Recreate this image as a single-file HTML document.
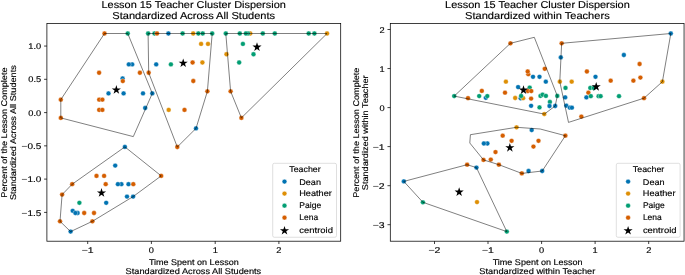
<!DOCTYPE html>
<html><head><meta charset="utf-8"><title>Lesson 15 Teacher Cluster Dispersion</title>
<style>html,body{margin:0;padding:0;background:#fff;overflow:hidden;width:685px;height:275px;}svg{display:block;will-change:transform;} text{text-rendering:geometricPrecision;stroke:#000;stroke-width:0.15px;}</style></head>
<body>
<svg width="685" height="275" viewBox="0 0 685 275" font-family="'Liberation Sans', sans-serif" fill="#000">
<rect x="0" y="0" width="685" height="275" fill="#fff"/>
<circle cx="104.50" cy="33.50" r="2.42" fill="#d55e00" stroke="#fff" stroke-width="0.39"/>
<circle cx="127.75" cy="33.50" r="2.42" fill="#029e73" stroke="#fff" stroke-width="0.39"/>
<circle cx="148.10" cy="33.50" r="2.42" fill="#029e73" stroke="#fff" stroke-width="0.39"/>
<circle cx="154.50" cy="33.50" r="2.42" fill="#029e73" stroke="#fff" stroke-width="0.39"/>
<circle cx="157.00" cy="33.50" r="2.42" fill="#d55e00" stroke="#fff" stroke-width="0.39"/>
<circle cx="168.40" cy="33.50" r="2.42" fill="#0173b2" stroke="#fff" stroke-width="0.39"/>
<circle cx="182.60" cy="33.50" r="2.42" fill="#029e73" stroke="#fff" stroke-width="0.39"/>
<circle cx="193.20" cy="33.50" r="2.42" fill="#de8f05" stroke="#fff" stroke-width="0.39"/>
<circle cx="198.35" cy="33.50" r="2.42" fill="#029e73" stroke="#fff" stroke-width="0.39"/>
<circle cx="202.70" cy="33.50" r="2.42" fill="#029e73" stroke="#fff" stroke-width="0.39"/>
<circle cx="212.20" cy="33.50" r="2.42" fill="#029e73" stroke="#fff" stroke-width="0.39"/>
<circle cx="225.80" cy="33.50" r="2.42" fill="#029e73" stroke="#fff" stroke-width="0.39"/>
<circle cx="239.80" cy="33.50" r="2.42" fill="#029e73" stroke="#fff" stroke-width="0.39"/>
<circle cx="250.20" cy="33.50" r="2.42" fill="#de8f05" stroke="#fff" stroke-width="0.39"/>
<circle cx="247.90" cy="33.50" r="2.42" fill="#029e73" stroke="#fff" stroke-width="0.39"/>
<circle cx="245.90" cy="33.50" r="2.42" fill="#029e73" stroke="#fff" stroke-width="0.39"/>
<circle cx="262.80" cy="33.50" r="2.42" fill="#029e73" stroke="#fff" stroke-width="0.39"/>
<circle cx="274.80" cy="33.50" r="2.42" fill="#029e73" stroke="#fff" stroke-width="0.39"/>
<circle cx="308.70" cy="33.50" r="2.42" fill="#029e73" stroke="#fff" stroke-width="0.39"/>
<circle cx="314.40" cy="33.50" r="2.42" fill="#029e73" stroke="#fff" stroke-width="0.39"/>
<circle cx="327.05" cy="33.50" r="2.42" fill="#de8f05" stroke="#fff" stroke-width="0.39"/>
<circle cx="201.10" cy="43.95" r="2.42" fill="#de8f05" stroke="#fff" stroke-width="0.39"/>
<circle cx="208.00" cy="43.95" r="2.42" fill="#de8f05" stroke="#fff" stroke-width="0.39"/>
<circle cx="242.90" cy="43.95" r="2.42" fill="#029e73" stroke="#fff" stroke-width="0.39"/>
<circle cx="226.50" cy="54.25" r="2.42" fill="#de8f05" stroke="#fff" stroke-width="0.39"/>
<circle cx="253.50" cy="54.25" r="2.42" fill="#029e73" stroke="#fff" stroke-width="0.39"/>
<circle cx="192.60" cy="62.50" r="2.42" fill="#d55e00" stroke="#fff" stroke-width="0.39"/>
<circle cx="202.40" cy="62.50" r="2.42" fill="#de8f05" stroke="#fff" stroke-width="0.39"/>
<circle cx="239.15" cy="62.50" r="2.42" fill="#029e73" stroke="#fff" stroke-width="0.39"/>
<circle cx="132.20" cy="64.40" r="2.42" fill="#0173b2" stroke="#fff" stroke-width="0.39"/>
<circle cx="128.80" cy="64.40" r="2.42" fill="#0173b2" stroke="#fff" stroke-width="0.39"/>
<circle cx="156.20" cy="64.40" r="2.42" fill="#0173b2" stroke="#fff" stroke-width="0.39"/>
<circle cx="170.90" cy="64.40" r="2.42" fill="#029e73" stroke="#fff" stroke-width="0.39"/>
<circle cx="99.10" cy="72.75" r="2.42" fill="#d55e00" stroke="#fff" stroke-width="0.39"/>
<circle cx="139.90" cy="72.75" r="2.42" fill="#d55e00" stroke="#fff" stroke-width="0.39"/>
<circle cx="148.70" cy="72.75" r="2.42" fill="#d55e00" stroke="#fff" stroke-width="0.39"/>
<circle cx="122.60" cy="78.50" r="2.42" fill="#0173b2" stroke="#fff" stroke-width="0.39"/>
<circle cx="122.80" cy="81.10" r="2.42" fill="#d55e00" stroke="#fff" stroke-width="0.39"/>
<circle cx="193.30" cy="81.00" r="2.42" fill="#d55e00" stroke="#fff" stroke-width="0.39"/>
<circle cx="207.40" cy="91.30" r="2.42" fill="#d55e00" stroke="#fff" stroke-width="0.39"/>
<circle cx="230.60" cy="91.30" r="2.42" fill="#d55e00" stroke="#fff" stroke-width="0.39"/>
<circle cx="108.50" cy="93.40" r="2.42" fill="#0173b2" stroke="#fff" stroke-width="0.39"/>
<circle cx="123.60" cy="93.40" r="2.42" fill="#0173b2" stroke="#fff" stroke-width="0.39"/>
<circle cx="143.00" cy="93.40" r="2.42" fill="#0173b2" stroke="#fff" stroke-width="0.39"/>
<circle cx="152.30" cy="93.40" r="2.42" fill="#0173b2" stroke="#fff" stroke-width="0.39"/>
<circle cx="60.80" cy="99.65" r="2.42" fill="#d55e00" stroke="#fff" stroke-width="0.39"/>
<circle cx="99.20" cy="99.65" r="2.42" fill="#d55e00" stroke="#fff" stroke-width="0.39"/>
<circle cx="102.40" cy="99.65" r="2.42" fill="#d55e00" stroke="#fff" stroke-width="0.39"/>
<circle cx="145.20" cy="108.00" r="2.42" fill="#0173b2" stroke="#fff" stroke-width="0.39"/>
<circle cx="99.20" cy="109.90" r="2.42" fill="#d55e00" stroke="#fff" stroke-width="0.39"/>
<circle cx="102.40" cy="109.90" r="2.42" fill="#d55e00" stroke="#fff" stroke-width="0.39"/>
<circle cx="168.70" cy="109.90" r="2.42" fill="#de8f05" stroke="#fff" stroke-width="0.39"/>
<circle cx="184.50" cy="109.90" r="2.42" fill="#d55e00" stroke="#fff" stroke-width="0.39"/>
<circle cx="60.80" cy="117.90" r="2.42" fill="#d55e00" stroke="#fff" stroke-width="0.39"/>
<circle cx="241.40" cy="117.90" r="2.42" fill="#d55e00" stroke="#fff" stroke-width="0.39"/>
<circle cx="196.00" cy="128.40" r="2.42" fill="#0173b2" stroke="#fff" stroke-width="0.39"/>
<circle cx="177.30" cy="147.00" r="2.42" fill="#d55e00" stroke="#fff" stroke-width="0.39"/>
<circle cx="124.90" cy="146.90" r="2.42" fill="#0173b2" stroke="#fff" stroke-width="0.39"/>
<circle cx="115.20" cy="165.60" r="2.42" fill="#0173b2" stroke="#fff" stroke-width="0.39"/>
<circle cx="96.50" cy="175.90" r="2.42" fill="#d55e00" stroke="#fff" stroke-width="0.39"/>
<circle cx="104.10" cy="175.90" r="2.42" fill="#d55e00" stroke="#fff" stroke-width="0.39"/>
<circle cx="161.20" cy="175.90" r="2.42" fill="#d55e00" stroke="#fff" stroke-width="0.39"/>
<circle cx="72.20" cy="184.20" r="2.42" fill="#d55e00" stroke="#fff" stroke-width="0.39"/>
<circle cx="105.70" cy="184.20" r="2.42" fill="#d55e00" stroke="#fff" stroke-width="0.39"/>
<circle cx="121.40" cy="184.20" r="2.42" fill="#0173b2" stroke="#fff" stroke-width="0.39"/>
<circle cx="117.90" cy="184.20" r="2.42" fill="#0173b2" stroke="#fff" stroke-width="0.39"/>
<circle cx="128.50" cy="184.20" r="2.42" fill="#0173b2" stroke="#fff" stroke-width="0.39"/>
<circle cx="133.30" cy="184.20" r="2.42" fill="#d55e00" stroke="#fff" stroke-width="0.39"/>
<circle cx="62.10" cy="194.60" r="2.42" fill="#d55e00" stroke="#fff" stroke-width="0.39"/>
<circle cx="127.00" cy="196.60" r="2.42" fill="#0173b2" stroke="#fff" stroke-width="0.39"/>
<circle cx="133.10" cy="196.60" r="2.42" fill="#0173b2" stroke="#fff" stroke-width="0.39"/>
<circle cx="79.40" cy="202.80" r="2.42" fill="#029e73" stroke="#fff" stroke-width="0.39"/>
<circle cx="106.20" cy="202.80" r="2.42" fill="#0173b2" stroke="#fff" stroke-width="0.39"/>
<circle cx="72.70" cy="210.80" r="2.42" fill="#0173b2" stroke="#fff" stroke-width="0.39"/>
<circle cx="77.60" cy="213.00" r="2.42" fill="#0173b2" stroke="#fff" stroke-width="0.39"/>
<circle cx="75.40" cy="213.00" r="2.42" fill="#0173b2" stroke="#fff" stroke-width="0.39"/>
<circle cx="84.20" cy="213.00" r="2.42" fill="#d55e00" stroke="#fff" stroke-width="0.39"/>
<circle cx="94.00" cy="213.00" r="2.42" fill="#d55e00" stroke="#fff" stroke-width="0.39"/>
<circle cx="60.00" cy="221.30" r="2.42" fill="#d55e00" stroke="#fff" stroke-width="0.39"/>
<circle cx="92.40" cy="221.30" r="2.42" fill="#d55e00" stroke="#fff" stroke-width="0.39"/>
<circle cx="70.60" cy="231.60" r="2.42" fill="#0173b2" stroke="#fff" stroke-width="0.39"/>
<polygon points="116.35,85.10 117.43,88.42 120.92,88.42 118.09,90.47 119.17,93.78 116.35,91.73 113.53,93.78 114.61,90.47 111.78,88.42 115.27,88.42" fill="#000"/>
<polygon points="183.20,58.40 184.28,61.72 187.77,61.72 184.94,63.77 186.02,67.08 183.20,65.03 180.38,67.08 181.46,63.77 178.63,61.72 182.12,61.72" fill="#000"/>
<polygon points="257.00,42.30 258.08,45.62 261.57,45.62 258.74,47.67 259.82,50.98 257.00,48.93 254.18,50.98 255.26,47.67 252.43,45.62 255.92,45.62" fill="#000"/>
<polygon points="101.50,188.10 102.58,191.42 106.07,191.42 103.24,193.47 104.32,196.78 101.50,194.73 98.68,196.78 99.76,193.47 96.93,191.42 100.42,191.42" fill="#000"/>
<polygon points="104.50,33.50 127.75,33.50 152.30,93.40 133.30,136.60 60.80,117.90 60.80,99.65" fill="none" stroke="#000" stroke-width="0.5" stroke-linejoin="miter"/>
<polygon points="148.10,33.50 212.20,33.50 207.40,91.30 196.00,128.40 177.30,147.00 148.70,72.75" fill="none" stroke="#000" stroke-width="0.5" stroke-linejoin="miter"/>
<polygon points="225.80,33.50 327.05,33.50 241.40,117.90 230.60,91.30" fill="none" stroke="#000" stroke-width="0.5" stroke-linejoin="miter"/>
<polygon points="124.90,146.90 161.20,175.90 133.10,196.60 92.40,221.30 70.60,231.60 60.00,221.30 62.10,194.60 72.20,184.20" fill="none" stroke="#000" stroke-width="0.5" stroke-linejoin="miter"/>
<rect x="46.90" y="23.45" width="293.80" height="217.75" fill="none" stroke="#000" stroke-width="0.75"/>
<line x1="87.70" y1="241.20" x2="87.70" y2="244.03" stroke="#000" stroke-width="0.75"/>
<text x="87.70" y="253.40" font-size="8.3" text-anchor="middle" textLength="11.94" lengthAdjust="spacingAndGlyphs">−1</text>
<line x1="151.40" y1="241.20" x2="151.40" y2="244.03" stroke="#000" stroke-width="0.75"/>
<text x="151.40" y="253.40" font-size="8.3" text-anchor="middle" textLength="5.15" lengthAdjust="spacingAndGlyphs">0</text>
<line x1="215.20" y1="241.20" x2="215.20" y2="244.03" stroke="#000" stroke-width="0.75"/>
<text x="215.20" y="253.40" font-size="8.3" text-anchor="middle" textLength="5.15" lengthAdjust="spacingAndGlyphs">1</text>
<line x1="278.90" y1="241.20" x2="278.90" y2="244.03" stroke="#000" stroke-width="0.75"/>
<text x="278.90" y="253.40" font-size="8.3" text-anchor="middle" textLength="5.15" lengthAdjust="spacingAndGlyphs">2</text>
<line x1="46.90" y1="46.05" x2="44.07" y2="46.05" stroke="#000" stroke-width="0.75"/>
<text x="41.24" y="49.20" font-size="8.3" text-anchor="end" textLength="12.88" lengthAdjust="spacingAndGlyphs">1.0</text>
<line x1="46.90" y1="79.30" x2="44.07" y2="79.30" stroke="#000" stroke-width="0.75"/>
<text x="41.24" y="82.45" font-size="8.3" text-anchor="end" textLength="12.88" lengthAdjust="spacingAndGlyphs">0.5</text>
<line x1="46.90" y1="112.60" x2="44.07" y2="112.60" stroke="#000" stroke-width="0.75"/>
<text x="41.24" y="115.75" font-size="8.3" text-anchor="end" textLength="12.88" lengthAdjust="spacingAndGlyphs">0.0</text>
<line x1="46.90" y1="145.85" x2="44.07" y2="145.85" stroke="#000" stroke-width="0.75"/>
<text x="41.24" y="149.00" font-size="8.3" text-anchor="end" textLength="19.67" lengthAdjust="spacingAndGlyphs">−0.5</text>
<line x1="46.90" y1="179.10" x2="44.07" y2="179.10" stroke="#000" stroke-width="0.75"/>
<text x="41.24" y="182.25" font-size="8.3" text-anchor="end" textLength="19.67" lengthAdjust="spacingAndGlyphs">−1.0</text>
<line x1="46.90" y1="212.40" x2="44.07" y2="212.40" stroke="#000" stroke-width="0.75"/>
<text x="41.24" y="215.55" font-size="8.3" text-anchor="end" textLength="19.67" lengthAdjust="spacingAndGlyphs">−1.5</text>
<text x="101.51" y="7.80" font-size="10.0" textLength="184.29" lengthAdjust="spacingAndGlyphs">Lesson 15 Teacher Cluster Dispersion</text>
<text x="112.30" y="18.80" font-size="10.0" textLength="162.79" lengthAdjust="spacingAndGlyphs">Standardized Across All Students</text>
<text x="148.90" y="264.60" font-size="8.3" textLength="89.78" lengthAdjust="spacingAndGlyphs">Time Spent on Lesson</text>
<text x="125.58" y="273.60" font-size="8.3" textLength="135.65" lengthAdjust="spacingAndGlyphs">Standardized Across All Students</text>
<text x="7.10" y="197.65" font-size="8.3" textLength="130.15" lengthAdjust="spacingAndGlyphs" transform="rotate(-90 7.10 197.65)">Percent of the Lesson Complete</text>
<text x="16.10" y="200.11" font-size="8.3" textLength="134.94" lengthAdjust="spacingAndGlyphs" transform="rotate(-90 16.10 200.11)">Standardized Across All Students</text>
<rect x="272.70" y="163.30" width="63.80" height="73.95" rx="1.6" ry="1.6" fill="#fff" fill-opacity="0.8" stroke="#ccc" stroke-opacity="0.8" stroke-width="0.8"/>
<text x="289.21" y="172.20" font-size="8.3" textLength="31.54" lengthAdjust="spacingAndGlyphs">Teacher</text>
<circle cx="284.50" cy="181.60" r="2.42" fill="#0173b2" stroke="#fff" stroke-width="0.39"/>
<text x="299.25" y="184.60" font-size="8.3" textLength="21.74" lengthAdjust="spacingAndGlyphs">Dean</text>
<circle cx="284.50" cy="193.60" r="2.42" fill="#de8f05" stroke="#fff" stroke-width="0.39"/>
<text x="299.25" y="196.40" font-size="8.3" textLength="32.60" lengthAdjust="spacingAndGlyphs">Heather</text>
<circle cx="284.50" cy="205.70" r="2.42" fill="#029e73" stroke="#fff" stroke-width="0.39"/>
<text x="299.30" y="208.30" font-size="8.3" textLength="21.88" lengthAdjust="spacingAndGlyphs">Paige</text>
<circle cx="284.50" cy="217.70" r="2.42" fill="#d55e00" stroke="#fff" stroke-width="0.39"/>
<text x="299.30" y="220.30" font-size="8.3" textLength="18.90" lengthAdjust="spacingAndGlyphs">Lena</text>
<polygon points="284.50,225.90 285.58,229.22 289.07,229.22 286.24,231.27 287.32,234.58 284.50,232.53 281.68,234.58 282.76,231.27 279.93,229.22 283.42,229.22" fill="#000"/>
<text x="299.30" y="232.50" font-size="8.3" textLength="33.61" lengthAdjust="spacingAndGlyphs">centroid</text>
<circle cx="670.80" cy="33.50" r="2.42" fill="#0173b2" stroke="#fff" stroke-width="0.39"/>
<circle cx="510.45" cy="43.30" r="2.42" fill="#d55e00" stroke="#fff" stroke-width="0.39"/>
<circle cx="561.65" cy="43.30" r="2.42" fill="#d55e00" stroke="#fff" stroke-width="0.39"/>
<circle cx="560.80" cy="57.40" r="2.42" fill="#0173b2" stroke="#fff" stroke-width="0.39"/>
<circle cx="623.85" cy="55.00" r="2.42" fill="#0173b2" stroke="#fff" stroke-width="0.39"/>
<circle cx="639.60" cy="64.00" r="2.42" fill="#d55e00" stroke="#fff" stroke-width="0.39"/>
<circle cx="544.75" cy="68.80" r="2.42" fill="#d55e00" stroke="#fff" stroke-width="0.39"/>
<circle cx="528.30" cy="74.20" r="2.42" fill="#d55e00" stroke="#fff" stroke-width="0.39"/>
<circle cx="527.70" cy="71.50" r="2.42" fill="#d55e00" stroke="#fff" stroke-width="0.39"/>
<circle cx="586.90" cy="71.50" r="2.42" fill="#d55e00" stroke="#fff" stroke-width="0.39"/>
<circle cx="533.00" cy="76.80" r="2.42" fill="#0173b2" stroke="#fff" stroke-width="0.39"/>
<circle cx="539.50" cy="76.80" r="2.42" fill="#0173b2" stroke="#fff" stroke-width="0.39"/>
<circle cx="595.50" cy="76.80" r="2.42" fill="#0173b2" stroke="#fff" stroke-width="0.39"/>
<circle cx="640.40" cy="77.60" r="2.42" fill="#d55e00" stroke="#fff" stroke-width="0.39"/>
<circle cx="505.90" cy="81.70" r="2.42" fill="#de8f05" stroke="#fff" stroke-width="0.39"/>
<circle cx="545.80" cy="81.70" r="2.42" fill="#0173b2" stroke="#fff" stroke-width="0.39"/>
<circle cx="559.80" cy="81.70" r="2.42" fill="#de8f05" stroke="#fff" stroke-width="0.39"/>
<circle cx="571.70" cy="81.70" r="2.42" fill="#de8f05" stroke="#fff" stroke-width="0.39"/>
<circle cx="662.40" cy="81.70" r="2.42" fill="#de8f05" stroke="#fff" stroke-width="0.39"/>
<circle cx="610.70" cy="80.70" r="2.42" fill="#d55e00" stroke="#fff" stroke-width="0.39"/>
<circle cx="633.40" cy="80.70" r="2.42" fill="#d55e00" stroke="#fff" stroke-width="0.39"/>
<circle cx="518.10" cy="87.10" r="2.42" fill="#0173b2" stroke="#fff" stroke-width="0.39"/>
<circle cx="529.70" cy="87.60" r="2.42" fill="#029e73" stroke="#fff" stroke-width="0.39"/>
<circle cx="565.50" cy="87.90" r="2.42" fill="#029e73" stroke="#fff" stroke-width="0.39"/>
<circle cx="590.30" cy="87.90" r="2.42" fill="#029e73" stroke="#fff" stroke-width="0.39"/>
<circle cx="593.80" cy="88.00" r="2.42" fill="#029e73" stroke="#fff" stroke-width="0.39"/>
<circle cx="481.80" cy="90.90" r="2.42" fill="#d55e00" stroke="#fff" stroke-width="0.39"/>
<circle cx="527.90" cy="91.10" r="2.42" fill="#d55e00" stroke="#fff" stroke-width="0.39"/>
<circle cx="531.30" cy="91.10" r="2.42" fill="#d55e00" stroke="#fff" stroke-width="0.39"/>
<circle cx="505.00" cy="92.70" r="2.42" fill="#d55e00" stroke="#fff" stroke-width="0.39"/>
<circle cx="588.40" cy="92.70" r="2.42" fill="#d55e00" stroke="#fff" stroke-width="0.39"/>
<circle cx="454.20" cy="96.10" r="2.42" fill="#029e73" stroke="#fff" stroke-width="0.39"/>
<circle cx="479.20" cy="96.10" r="2.42" fill="#029e73" stroke="#fff" stroke-width="0.39"/>
<circle cx="485.80" cy="97.80" r="2.42" fill="#0173b2" stroke="#fff" stroke-width="0.39"/>
<circle cx="487.30" cy="96.10" r="2.42" fill="#029e73" stroke="#fff" stroke-width="0.39"/>
<circle cx="468.00" cy="98.20" r="2.42" fill="#d55e00" stroke="#fff" stroke-width="0.39"/>
<circle cx="515.20" cy="98.00" r="2.42" fill="#de8f05" stroke="#fff" stroke-width="0.39"/>
<circle cx="520.70" cy="98.30" r="2.42" fill="#0173b2" stroke="#fff" stroke-width="0.39"/>
<circle cx="523.10" cy="98.20" r="2.42" fill="#de8f05" stroke="#fff" stroke-width="0.39"/>
<circle cx="521.10" cy="96.00" r="2.42" fill="#029e73" stroke="#fff" stroke-width="0.39"/>
<circle cx="531.10" cy="98.60" r="2.42" fill="#d55e00" stroke="#fff" stroke-width="0.39"/>
<circle cx="540.50" cy="95.90" r="2.42" fill="#029e73" stroke="#fff" stroke-width="0.39"/>
<circle cx="542.60" cy="94.70" r="2.42" fill="#029e73" stroke="#fff" stroke-width="0.39"/>
<circle cx="545.90" cy="95.90" r="2.42" fill="#029e73" stroke="#fff" stroke-width="0.39"/>
<circle cx="557.30" cy="95.90" r="2.42" fill="#029e73" stroke="#fff" stroke-width="0.39"/>
<circle cx="565.20" cy="97.40" r="2.42" fill="#0173b2" stroke="#fff" stroke-width="0.39"/>
<circle cx="586.40" cy="97.40" r="2.42" fill="#0173b2" stroke="#fff" stroke-width="0.39"/>
<circle cx="590.80" cy="96.20" r="2.42" fill="#029e73" stroke="#fff" stroke-width="0.39"/>
<circle cx="598.60" cy="96.20" r="2.42" fill="#029e73" stroke="#fff" stroke-width="0.39"/>
<circle cx="600.60" cy="96.20" r="2.42" fill="#029e73" stroke="#fff" stroke-width="0.39"/>
<circle cx="619.00" cy="96.20" r="2.42" fill="#029e73" stroke="#fff" stroke-width="0.39"/>
<circle cx="644.00" cy="98.20" r="2.42" fill="#d55e00" stroke="#fff" stroke-width="0.39"/>
<circle cx="549.90" cy="102.00" r="2.42" fill="#029e73" stroke="#fff" stroke-width="0.39"/>
<circle cx="531.10" cy="105.80" r="2.42" fill="#0173b2" stroke="#fff" stroke-width="0.39"/>
<circle cx="549.50" cy="106.00" r="2.42" fill="#0173b2" stroke="#fff" stroke-width="0.39"/>
<circle cx="555.20" cy="106.00" r="2.42" fill="#0173b2" stroke="#fff" stroke-width="0.39"/>
<circle cx="539.50" cy="107.40" r="2.42" fill="#029e73" stroke="#fff" stroke-width="0.39"/>
<circle cx="566.30" cy="105.70" r="2.42" fill="#0173b2" stroke="#fff" stroke-width="0.39"/>
<circle cx="569.80" cy="107.70" r="2.42" fill="#0173b2" stroke="#fff" stroke-width="0.39"/>
<circle cx="571.90" cy="107.70" r="2.42" fill="#0173b2" stroke="#fff" stroke-width="0.39"/>
<circle cx="544.30" cy="114.10" r="2.42" fill="#de8f05" stroke="#fff" stroke-width="0.39"/>
<circle cx="581.35" cy="116.60" r="2.42" fill="#d55e00" stroke="#fff" stroke-width="0.39"/>
<circle cx="516.55" cy="127.30" r="2.42" fill="#de8f05" stroke="#fff" stroke-width="0.39"/>
<circle cx="531.70" cy="130.05" r="2.42" fill="#0173b2" stroke="#fff" stroke-width="0.39"/>
<circle cx="502.70" cy="135.70" r="2.42" fill="#d55e00" stroke="#fff" stroke-width="0.39"/>
<circle cx="565.40" cy="135.70" r="2.42" fill="#d55e00" stroke="#fff" stroke-width="0.39"/>
<circle cx="511.60" cy="140.85" r="2.42" fill="#d55e00" stroke="#fff" stroke-width="0.39"/>
<circle cx="538.50" cy="140.85" r="2.42" fill="#d55e00" stroke="#fff" stroke-width="0.39"/>
<circle cx="487.40" cy="143.50" r="2.42" fill="#0173b2" stroke="#fff" stroke-width="0.39"/>
<circle cx="483.85" cy="143.50" r="2.42" fill="#0173b2" stroke="#fff" stroke-width="0.39"/>
<circle cx="533.45" cy="146.60" r="2.42" fill="#d55e00" stroke="#fff" stroke-width="0.39"/>
<circle cx="495.50" cy="152.05" r="2.42" fill="#d55e00" stroke="#fff" stroke-width="0.39"/>
<circle cx="483.50" cy="159.90" r="2.42" fill="#d55e00" stroke="#fff" stroke-width="0.39"/>
<circle cx="490.80" cy="159.55" r="2.42" fill="#d55e00" stroke="#fff" stroke-width="0.39"/>
<circle cx="498.90" cy="164.70" r="2.42" fill="#d55e00" stroke="#fff" stroke-width="0.39"/>
<circle cx="521.80" cy="173.40" r="2.42" fill="#d55e00" stroke="#fff" stroke-width="0.39"/>
<circle cx="528.55" cy="171.00" r="2.42" fill="#0173b2" stroke="#fff" stroke-width="0.39"/>
<circle cx="542.20" cy="171.00" r="2.42" fill="#0173b2" stroke="#fff" stroke-width="0.39"/>
<circle cx="467.15" cy="164.70" r="2.42" fill="#d55e00" stroke="#fff" stroke-width="0.39"/>
<circle cx="476.45" cy="167.60" r="2.42" fill="#0173b2" stroke="#fff" stroke-width="0.39"/>
<circle cx="403.80" cy="181.40" r="2.42" fill="#0173b2" stroke="#fff" stroke-width="0.39"/>
<circle cx="422.90" cy="202.30" r="2.42" fill="#029e73" stroke="#fff" stroke-width="0.39"/>
<circle cx="477.00" cy="202.10" r="2.42" fill="#de8f05" stroke="#fff" stroke-width="0.39"/>
<circle cx="506.80" cy="231.60" r="2.42" fill="#029e73" stroke="#fff" stroke-width="0.39"/>
<polygon points="523.50,85.30 524.58,88.62 528.07,88.62 525.24,90.67 526.32,93.98 523.50,91.93 520.68,93.98 521.76,90.67 518.93,88.62 522.42,88.62" fill="#000"/>
<polygon points="596.20,82.00 597.28,85.32 600.77,85.32 597.94,87.37 599.02,90.68 596.20,88.63 593.38,90.68 594.46,87.37 591.63,85.32 595.12,85.32" fill="#000"/>
<polygon points="509.85,142.95 510.93,146.27 514.42,146.27 511.59,148.32 512.67,151.63 509.85,149.58 507.03,151.63 508.11,148.32 505.28,146.27 508.77,146.27" fill="#000"/>
<polygon points="459.15,187.30 460.23,190.62 463.72,190.62 460.89,192.67 461.97,195.98 459.15,193.93 456.33,195.98 457.41,192.67 454.58,190.62 458.07,190.62" fill="#000"/>
<polygon points="510.45,43.30 534.30,37.30 557.30,95.90 555.20,106.00 544.30,114.10 454.20,96.10" fill="none" stroke="#000" stroke-width="0.5" stroke-linejoin="miter"/>
<polygon points="561.65,43.30 670.80,33.50 662.40,81.70 644.00,98.20 568.50,122.40 559.80,81.70" fill="none" stroke="#000" stroke-width="0.5" stroke-linejoin="miter"/>
<polygon points="470.40,134.70 516.55,127.30 540.20,129.00 565.40,135.70 542.20,171.00 521.80,173.40 498.90,164.70 483.50,159.90 469.80,143.00" fill="none" stroke="#000" stroke-width="0.5" stroke-linejoin="miter"/>
<polygon points="403.80,181.40 467.15,164.70 476.45,167.60 506.80,231.60 422.90,202.30" fill="none" stroke="#000" stroke-width="0.5" stroke-linejoin="miter"/>
<rect x="390.30" y="23.45" width="293.75" height="217.75" fill="none" stroke="#000" stroke-width="0.75"/>
<line x1="434.50" y1="241.20" x2="434.50" y2="244.03" stroke="#000" stroke-width="0.75"/>
<text x="434.50" y="253.40" font-size="8.3" text-anchor="middle" textLength="11.94" lengthAdjust="spacingAndGlyphs">−2</text>
<line x1="488.00" y1="241.20" x2="488.00" y2="244.03" stroke="#000" stroke-width="0.75"/>
<text x="488.00" y="253.40" font-size="8.3" text-anchor="middle" textLength="11.94" lengthAdjust="spacingAndGlyphs">−1</text>
<line x1="541.60" y1="241.20" x2="541.60" y2="244.03" stroke="#000" stroke-width="0.75"/>
<text x="541.60" y="253.40" font-size="8.3" text-anchor="middle" textLength="5.15" lengthAdjust="spacingAndGlyphs">0</text>
<line x1="595.10" y1="241.20" x2="595.10" y2="244.03" stroke="#000" stroke-width="0.75"/>
<text x="595.10" y="253.40" font-size="8.3" text-anchor="middle" textLength="5.15" lengthAdjust="spacingAndGlyphs">1</text>
<line x1="648.70" y1="241.20" x2="648.70" y2="244.03" stroke="#000" stroke-width="0.75"/>
<text x="648.70" y="253.40" font-size="8.3" text-anchor="middle" textLength="5.15" lengthAdjust="spacingAndGlyphs">2</text>
<line x1="390.30" y1="29.50" x2="387.47" y2="29.50" stroke="#000" stroke-width="0.75"/>
<text x="384.64" y="32.65" font-size="8.3" text-anchor="end" textLength="5.15" lengthAdjust="spacingAndGlyphs">2</text>
<line x1="390.30" y1="68.55" x2="387.47" y2="68.55" stroke="#000" stroke-width="0.75"/>
<text x="384.64" y="71.70" font-size="8.3" text-anchor="end" textLength="5.15" lengthAdjust="spacingAndGlyphs">1</text>
<line x1="390.30" y1="107.60" x2="387.47" y2="107.60" stroke="#000" stroke-width="0.75"/>
<text x="384.64" y="110.75" font-size="8.3" text-anchor="end" textLength="5.15" lengthAdjust="spacingAndGlyphs">0</text>
<line x1="390.30" y1="146.60" x2="387.47" y2="146.60" stroke="#000" stroke-width="0.75"/>
<text x="384.64" y="149.75" font-size="8.3" text-anchor="end" textLength="11.94" lengthAdjust="spacingAndGlyphs">−1</text>
<line x1="390.30" y1="185.70" x2="387.47" y2="185.70" stroke="#000" stroke-width="0.75"/>
<text x="384.64" y="188.85" font-size="8.3" text-anchor="end" textLength="11.94" lengthAdjust="spacingAndGlyphs">−2</text>
<line x1="390.30" y1="224.70" x2="387.47" y2="224.70" stroke="#000" stroke-width="0.75"/>
<text x="384.64" y="227.85" font-size="8.3" text-anchor="end" textLength="11.94" lengthAdjust="spacingAndGlyphs">−3</text>
<text x="445.11" y="7.80" font-size="10.0" textLength="184.65" lengthAdjust="spacingAndGlyphs">Lesson 15 Teacher Cluster Dispersion</text>
<text x="465.00" y="18.80" font-size="10.0" textLength="144.70" lengthAdjust="spacingAndGlyphs">Standardized within Teachers</text>
<text x="492.65" y="264.60" font-size="8.3" textLength="89.99" lengthAdjust="spacingAndGlyphs">Time Spent on Lesson</text>
<text x="479.38" y="273.60" font-size="8.3" textLength="115.97" lengthAdjust="spacingAndGlyphs">Standardized within Teacher</text>
<text x="358.70" y="197.75" font-size="8.3" textLength="130.15" lengthAdjust="spacingAndGlyphs" transform="rotate(-90 358.70 197.75)">Percent of the Lesson Complete</text>
<text x="368.10" y="190.21" font-size="8.3" textLength="114.86" lengthAdjust="spacingAndGlyphs" transform="rotate(-90 368.10 190.21)">Standardized within Teacher</text>
<rect x="616.30" y="163.30" width="63.80" height="73.95" rx="1.6" ry="1.6" fill="#fff" fill-opacity="0.8" stroke="#ccc" stroke-opacity="0.8" stroke-width="0.8"/>
<text x="632.81" y="172.20" font-size="8.3" textLength="31.54" lengthAdjust="spacingAndGlyphs">Teacher</text>
<circle cx="628.10" cy="181.60" r="2.42" fill="#0173b2" stroke="#fff" stroke-width="0.39"/>
<text x="642.85" y="184.60" font-size="8.3" textLength="21.74" lengthAdjust="spacingAndGlyphs">Dean</text>
<circle cx="628.10" cy="193.60" r="2.42" fill="#de8f05" stroke="#fff" stroke-width="0.39"/>
<text x="642.85" y="196.40" font-size="8.3" textLength="32.60" lengthAdjust="spacingAndGlyphs">Heather</text>
<circle cx="628.10" cy="205.70" r="2.42" fill="#029e73" stroke="#fff" stroke-width="0.39"/>
<text x="642.90" y="208.30" font-size="8.3" textLength="21.88" lengthAdjust="spacingAndGlyphs">Paige</text>
<circle cx="628.10" cy="217.70" r="2.42" fill="#d55e00" stroke="#fff" stroke-width="0.39"/>
<text x="642.90" y="220.30" font-size="8.3" textLength="18.90" lengthAdjust="spacingAndGlyphs">Lena</text>
<polygon points="628.10,225.90 629.18,229.22 632.67,229.22 629.84,231.27 630.92,234.58 628.10,232.53 625.28,234.58 626.36,231.27 623.53,229.22 627.02,229.22" fill="#000"/>
<text x="642.90" y="232.50" font-size="8.3" textLength="33.61" lengthAdjust="spacingAndGlyphs">centroid</text>
</svg>
</body></html>
